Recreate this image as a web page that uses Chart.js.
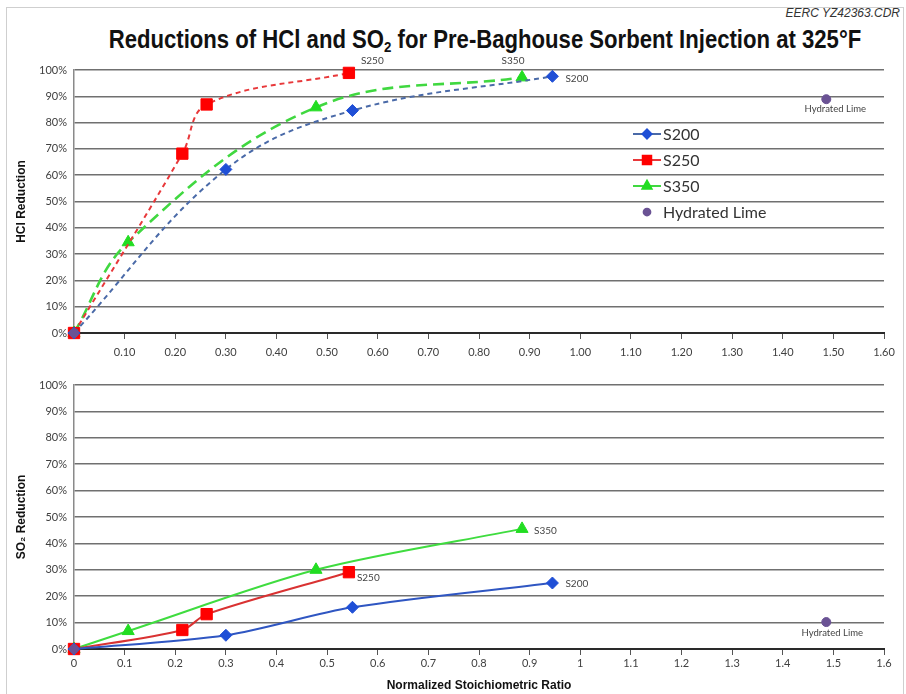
<!DOCTYPE html>
<html>
<head>
<meta charset="utf-8">
<script src="https://cdn.jsdelivr.net/npm/chart.js@4.4.1/dist/chart.umd.min.js"></script>
<style>
  html, body { margin: 0; padding: 0; background: #fff; }
  body { width: 906px; height: 694px; position: relative; overflow: hidden; }
  #frame { position: absolute; left: 6px; top: 7px; width: 898px; height: 700px; border: 1px solid #cfcfcf; box-sizing: border-box; }
  #code { position: absolute; right: 6px; top: 6px; font: italic 12px "Liberation Sans Narrow", "Liberation Sans", sans-serif; color: #333; }
  #title { position: absolute; left: 0; top: 25px; width: 970px; text-align: center; font: bold 25px "Liberation Sans", Arial, sans-serif; color: #111; white-space: nowrap; transform: scaleX(0.885); transform-origin: 485px 0; }
  #title sub { font-size: 15px; vertical-align: -4px; line-height: 0; }
  canvas { position: absolute; left: 0; }
  #top { top: 50px; }
  #bottom { top: 365px; }
</style>
</head>
<body>
<div id="frame"></div>
<div id="code">EERC YZ42363.CDR</div>
<div id="title">Reductions of HCl and SO<sub>2</sub> for Pre-Baghouse Sorbent Injection at 325°F</div>
<div><canvas id="top" width="906" height="315"></canvas></div>
<div><canvas id="bottom" width="906" height="329"></canvas></div>
<script>
// ========== Data ==========
const xS200 = [0, 0.30, 0.55, 0.945];
const hclS200 = [0, 62.2, 84.6, 97.6];
const so2S200 = [0, 5.2, 15.8, 25.0];

const xS250 = [0, 0.214, 0.262, 0.543];
const hclS250 = [0, 68.2, 86.9, 98.9];
const so2S250 = [0, 7.2, 13.2, 29.1];

const xS350 = [0, 0.107, 0.478, 0.885];
const hclS350 = [0, 34.5, 85.8, 97.2];
const so2S350 = [0, 6.8, 30.0, 45.5];

const xLime = [0, 1.486];
const hclLime = [0, 88.9];
const so2Lime = [0, 10.2];

const seriesNames = ['S200', 'S250', 'S350', 'Hydrated Lime'];
const yTickLabels = ['0%', '10%', '20%', '30%', '40%', '50%', '60%', '70%', '80%', '90%', '100%'];
const topXTickLabels = ['', '0.10', '0.20', '0.30', '0.40', '0.50', '0.60', '0.70', '0.80', '0.90',
  '1.00', '1.10', '1.20', '1.30', '1.40', '1.50', '1.60'];
const bottomXTickLabels = ['0', '0.1', '0.2', '0.3', '0.4', '0.5', '0.6', '0.7', '0.8', '0.9',
  '1', '1.1', '1.2', '1.3', '1.4', '1.5', '1.6'];

// ========== Utilities ==========
const pts = (xs, ys) => xs.map((x, i) => ({ x, y: ys[i] }));
const TICK_FONT = { family: 'Lato, "Open Sans", sans-serif', size: 11 };
const AXIS_FONT = { family: '"Liberation Sans", Arial, sans-serif', size: 12, weight: 'bold' };

// label next to the last point of a dataset
const endLabels = {
  id: 'endLabels',
  afterDatasetsDraw(chart, args, opts) {
    const ctx = chart.ctx;
    ctx.save();
    ctx.fillStyle = '#444';
    ctx.textBaseline = 'middle';
    opts.items.forEach(it => {
      const meta = chart.getDatasetMeta(it.ds);
      const pt = meta.data[meta.data.length - 1];
      ctx.font = it.font || '10px Lato, sans-serif';
      ctx.textAlign = it.align || 'left';
      ctx.fillText(chart.data.datasets[it.ds].label, pt.x + it.dx, pt.y + it.dy);
    });
    ctx.restore();
  }
};

// legend box sitting inside the upper plot
const boxLegend = {
  id: 'boxLegend',
  afterDatasetsDraw(chart, args, opts) {
    if (!opts.show) return;
    const ctx = chart.ctx;
    ctx.save();
    chart.data.datasets.forEach((ds, i) => {
      const y = opts.y + i * opts.rowGap;
      const mx = opts.x + 14;
      if (ds.showLine !== false) {
        ctx.strokeStyle = ds.borderColor;
        ctx.lineWidth = 2;
        ctx.beginPath();
        ctx.moveTo(opts.x, y);
        ctx.lineTo(opts.x + 28, y);
        ctx.stroke();
      }
      ctx.fillStyle = ds.pointBackgroundColor;
      ctx.strokeStyle = ds.pointBackgroundColor;
      Chart.helpers.drawPoint(ctx, { pointStyle: ds.pointStyle, radius: ds.pointRadius * 0.75, borderWidth: 1 }, mx, y);
      ctx.fillStyle = '#333';
      ctx.font = '16px Lato, sans-serif';
      ctx.textBaseline = 'middle';
      ctx.textAlign = 'left';
      ctx.fillText(ds.label, opts.x + 30, y + 1);
    });
    ctx.restore();
  }
};

function makeDatasets(ys, dashed) {
  const lineCols = dashed ? ['#4a6aa8', '#e8383a', '#40d840'] : ['#2f56c2', '#d93232', '#3fdc3f'];
  const markCols = ['#1f4fd6', '#ff0000', '#22dd22'];
  const dashes = [[5, 4], [5, 4], [11, 6]];
  const styles = ['rectRot', 'rect', 'triangle'];
  const radii = [6, 8, 7];
  const xs = [xS200, xS250, xS350];
  const sets = [0, 1, 2].map(i => ({
    label: seriesNames[i],
    data: pts(xs[i], ys[i]),
    borderColor: lineCols[i],
    borderWidth: dashed && i === 2 ? 2.6 : 2,
    borderDash: dashed ? dashes[i] : [],
    tension: dashed ? 0.38 : 0.3,
    pointStyle: styles[i],
    pointRadius: radii[i],
    pointBackgroundColor: markCols[i],
    pointBorderColor: markCols[i],
    pointBorderWidth: 1,
    clip: false
  }));
  sets.push({
    label: seriesNames[3],
    data: pts(xLime, ys[3]),
    showLine: false,
    pointStyle: 'circle',
    pointRadius: 4.5,
    pointBackgroundColor: '#6a5294',
    pointBorderColor: '#6a5294',
    order: -1,
    clip: false
  });
  return sets;
}

function makeOptions(xLabels, yTitle, xTitle, xHeight, tickPad, labels, legend) {
  return {
    responsive: false,
    animation: false,
    layout: { padding: { top: 20, right: 22, left: 0, bottom: 0 } },
    plugins: {
      legend: { display: false },
      tooltip: { enabled: false },
      endLabels: { items: labels },
      boxLegend: legend
    },
    scales: {
      x: {
        type: 'linear', min: 0, max: 1.6,
        ticks: {
          stepSize: 0.1, color: '#404040', font: TICK_FONT, padding: tickPad, maxRotation: 0,
          autoSkip: false, callback: (v, i) => xLabels[i]
        },
        grid: { drawOnChartArea: false, drawTicks: true, tickLength: 6, color: '#555', lineWidth: 1 },
        border: { color: '#2a2a2a', width: 2 },
        title: { display: !!xTitle, text: xTitle, font: AXIS_FONT, color: '#111', padding: { top: 4, bottom: 1 } },
        afterFit: s => { s.height = xHeight; }
      },
      y: {
        min: 0, max: 100,
        ticks: {
          stepSize: 10, color: '#404040', font: TICK_FONT, padding: 7,
          callback: (v, i) => yTickLabels[i]
        },
        grid: { drawTicks: false, color: '#707070', lineWidth: 1.5 },
        border: { color: '#8a8a8a', width: 1.5 },
        title: { display: true, text: yTitle, font: AXIS_FONT, color: '#111', padding: { top: 14, bottom: 0 } },
        afterFit: s => { s.width = 74; }
      }
    }
  };
}

new Chart(document.getElementById('top'), {
  type: 'line',
  data: { datasets: makeDatasets([hclS200, hclS250, hclS350, hclLime], true) },
  options: makeOptions(topXTickLabels, 'HCl Reduction', '', 32, 7, [
    { ds: 1, dx: 12, dy: -12 },
    { ds: 2, dx: -9, dy: -17, align: 'center' },
    { ds: 0, dx: 13, dy: 2 },
    { ds: 3, dx: 9, dy: 10, align: 'center', font: '9.5px Lato, sans-serif' }
  ], { show: true, x: 633, y: 84, rowGap: 26 }),
  plugins: [endLabels, boxLegend]
});

new Chart(document.getElementById('bottom'), {
  type: 'line',
  data: { datasets: makeDatasets([so2S200, so2S250, so2S350, so2Lime], false) },
  options: makeOptions(bottomXTickLabels, 'SO₂ Reduction', 'Normalized Stoichiometric Ratio', 45, 2, [
    { ds: 2, dx: 12, dy: 2 },
    { ds: 1, dx: 8, dy: 6 },
    { ds: 0, dx: 13, dy: 1 },
    { ds: 3, dx: 6, dy: 11, align: 'center', font: '9.5px Lato, sans-serif' }
  ], { show: false }),
  plugins: [endLabels, boxLegend]
});
</script>
</body>
</html>
